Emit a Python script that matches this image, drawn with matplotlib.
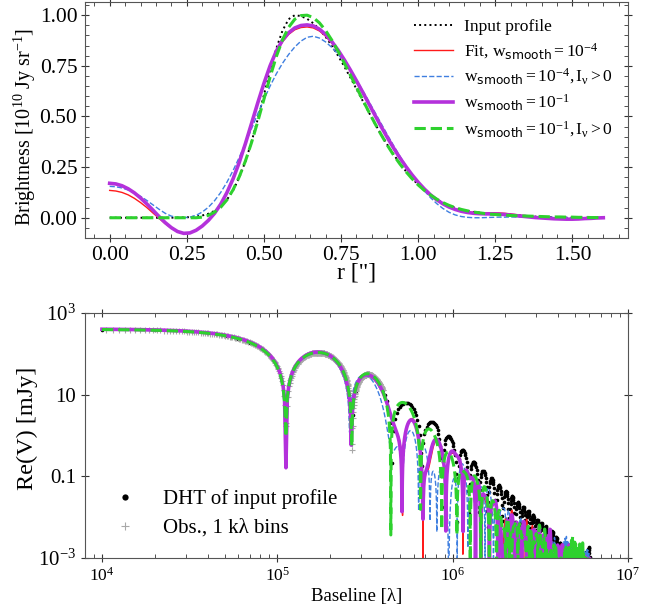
import numpy as np
import matplotlib
matplotlib.use('Agg')
import matplotlib.pyplot as plt
from matplotlib.lines import Line2D
from matplotlib.ticker import MultipleLocator, FixedLocator, LogLocator, NullLocator, NullFormatter

plt.rcParams['font.family'] = 'Liberation Serif'
plt.rcParams['mathtext.fontset'] = 'custom'
plt.rcParams['mathtext.rm'] = 'Liberation Serif'
plt.rcParams['mathtext.it'] = 'Liberation Serif:italic'
plt.rcParams['mathtext.bf'] = 'Liberation Serif:bold'
plt.rcParams['mathtext.sf'] = 'DejaVu Sans'

# radius of the brightness profiles ["]
r = np.round(np.arange(0, 1.6001, 0.02), 2)

# brightness [1e10 Jy/sr]
i_input = np.array([
    0, 0, 0, 0, 0, 0, 0, 0, 0, 0.0001,
    0.0003, 0.0007, 0.0015, 0.0031, 0.0060, 0.0111, 0.0198, 0.0340, 0.0561, 0.0889,
    0.1353, 0.1979, 0.2780, 0.3753, 0.4868, 0.6065, 0.7261, 0.8353, 0.9231, 0.9802,
    1.0000, 0.9955, 0.9820, 0.9600, 0.9300, 0.8928, 0.8494, 0.8007, 0.7481, 0.6926,
    0.6354, 0.5777, 0.5204, 0.4647, 0.4111, 0.3604, 0.3132, 0.2697, 0.2301, 0.1945,
    0.1630, 0.1354, 0.1116, 0.0912, 0.0741, 0.0600, 0.0487, 0.0399, 0.0333, 0.0284,
    0.0251, 0.0227, 0.0208, 0.0191, 0.0172, 0.0151, 0.0127, 0.0102, 0.0078, 0.0057,
    0.0039, 0.0026, 0.0016, 0.0009, 0.0005, 0.0003, 0.0001, 0.0001, 0, 0,
    0])

i_fit4 = np.array([
    0.135, 0.132, 0.125, 0.113, 0.096, 0.075, 0.051, 0.024, -0.003, -0.029,
    -0.052, -0.069, -0.077, -0.075, -0.062, -0.041, -0.013, 0.023, 0.069, 0.126,
    0.194, 0.275, 0.367, 0.465, 0.565, 0.660, 0.745, 0.815, 0.868, 0.905,
    0.928, 0.939, 0.942, 0.937, 0.922, 0.896, 0.862, 0.821, 0.775, 0.725,
    0.672, 0.617, 0.561, 0.505, 0.450, 0.396, 0.345, 0.297, 0.253, 0.212,
    0.175, 0.142, 0.113, 0.089, 0.069, 0.053, 0.042, 0.034, 0.029, 0.026,
    0.025, 0.025, 0.025, 0.024, 0.022, 0.019, 0.015, 0.011, 0.007, 0.004,
    0.001, -0.001, -0.003, -0.004, -0.005, -0.005, -0.004, -0.003, -0.002, -0.001,
    0.000])

i_pos4 = np.array([
    0.155, 0.153, 0.147, 0.137, 0.123, 0.106, 0.086, 0.064, 0.042, 0.022,
    0.008, 0.001, 0.000, 0.003, 0.012, 0.028, 0.052, 0.084, 0.125, 0.175,
    0.233, 0.298, 0.368, 0.440, 0.513, 0.584, 0.650, 0.710, 0.762, 0.806,
    0.843, 0.872, 0.891, 0.896, 0.887, 0.868, 0.841, 0.808, 0.770, 0.727,
    0.680, 0.629, 0.575, 0.520, 0.465, 0.410, 0.357, 0.306, 0.258, 0.213,
    0.171, 0.133, 0.099, 0.070, 0.046, 0.027, 0.014, 0.006, 0.002, 0.000,
    0.000, 0.001, 0.002, 0.003, 0.003, 0.004, 0.004, 0.004, 0.004, 0.003,
    0.003, 0.002, 0.002, 0.001, 0.001, 0.000, 0, 0, 0, 0,
    0])

i_fit1 = np.array([
    0.170, 0.167, 0.158, 0.143, 0.123, 0.098, 0.069, 0.038, 0.006, -0.024,
    -0.049, -0.068, -0.077, -0.075, -0.062, -0.041, -0.013, 0.022, 0.067, 0.124,
    0.192, 0.273, 0.366, 0.466, 0.567, 0.663, 0.750, 0.822, 0.876, 0.913,
    0.937, 0.949, 0.952, 0.947, 0.931, 0.905, 0.870, 0.828, 0.781, 0.730,
    0.676, 0.620, 0.563, 0.506, 0.450, 0.396, 0.345, 0.297, 0.253, 0.212,
    0.175, 0.142, 0.113, 0.089, 0.069, 0.053, 0.041, 0.032, 0.026, 0.022,
    0.020, 0.019, 0.019, 0.018, 0.016, 0.013, 0.010, 0.007, 0.004, 0.001,
    -0.001, -0.003, -0.005, -0.006, -0.007, -0.007, -0.006, -0.004, -0.003, -0.001,
    0.000])

i_pos1 = np.array([
    0, 0, 0, 0, 0, 0, 0, 0, 0, 0, 0, 0, 0, 0,
    0.000, 0.003, 0.012, 0.028, 0.052, 0.088, 0.138, 0.202, 0.280, 0.372,
    0.475, 0.585, 0.695, 0.795, 0.878, 0.940, 0.980, 0.998, 1.000, 0.988,
    0.962, 0.924, 0.877, 0.823, 0.765, 0.705, 0.644, 0.583, 0.523, 0.465,
    0.410, 0.358, 0.310, 0.267, 0.228, 0.193, 0.162, 0.135, 0.112, 0.092,
    0.075, 0.061, 0.050, 0.041, 0.034, 0.028, 0.024, 0.020, 0.017, 0.015,
    0.013, 0.011, 0.010, 0.009, 0.008, 0.007, 0.006, 0.005, 0.004, 0.004,
    0.003, 0.003, 0.002, 0.002, 0.001, 0.001, 0.000])

# baselines [lambda]
q_obs = np.arange(1.05e4, 4.0e5, 1.0e3)   # 1 klambda bins
q_dht = np.arange(1.0e4, 6.1e6, 1.0e4)
q_fit = np.arange(1.0e4, 6.1e6, 2.0e3)


def bessel_j0(x):
    x = np.abs(np.asarray(x, float))
    out = np.empty_like(x)
    s = x < 8.0
    y = x[s] ** 2
    a1 = 57568490574.0 + y * (-13362590354.0 + y * (651619640.7 + y * (-11214424.18
         + y * (77392.33017 + y * (-184.9052456)))))
    a2 = 57568490411.0 + y * (1029532985.0 + y * (9494680.718 + y * (59272.64853
         + y * (267.8532712 + y * 1.0))))
    out[s] = a1 / a2
    xl = x[~s]
    z = 8.0 / xl
    y = z * z
    xx = xl - 0.785398164
    b1 = 1.0 + y * (-0.1098628627e-2 + y * (0.2734510407e-4 + y * (-0.2073370639e-5
         + y * 0.2093887211e-6)))
    b2 = -0.1562499995e-1 + y * (0.1430488765e-3 + y * (-0.6911147651e-5
         + y * (0.7621095161e-6 - y * 0.934935152e-7)))
    out[~s] = np.sqrt(0.636619772 / xl) * (np.cos(xx) * b1 - z * np.sin(xx) * b2)
    return out


ARCSEC = np.pi / 180 / 3600


def hankel(q, rad, prof, step):
    """2 pi sum I(r) J0(2 pi q r) r dr, in mJy (r in arcsec, I in 1e10 Jy/sr)."""
    rr = rad * ARCSEC
    w = prof * 1e10 * rr * step * ARCSEC
    out = np.empty(len(q))
    for k in range(0, len(q), 400):
        qq = q[k:k + 400, None]
        out[k:k + 400] = 2 * np.pi * (bessel_j0(2 * np.pi * qq * rr) * w).sum(axis=1)
    return out * 1e3


def dht(q, prof):
    # transform of the sampled profile itself
    return hankel(q, r, prof, 0.02)


r_fine = np.arange(0.0005, 1.6, 0.001)


def model_vis(q, prof):
    # transform of the profile drawn as a continuous curve
    return hankel(q, r_fine, np.interp(r_fine, r, prof), 0.001)


RED = '#ff1a1a'
BLUE = '#3f7fe0'
PURPLE = '#b431db'
GREEN = '#2ed12e'

fig = plt.figure(figsize=(6.67, 6.12), dpi=100)
ax1 = fig.add_axes([0.1274, 0.6111, 0.8141, 0.3856])
ax2 = fig.add_axes([0.1274, 0.0882, 0.8141, 0.4003])

ws = r'$\mathregular{w}_{\mathsf{smooth}}'
# profiles
ax1.plot(r, i_input, ':', color='k', lw=1.4, label='Input profile')
ax1.plot(r, i_fit4, '-', color=RED, lw=1.0, label='Fit, ' + ws + r'=10^{-4}$')
ax1.plot(r, i_pos4, '--', color=BLUE, lw=1.0,
         label=ws + r'=10^{-4}, \mathregular{I}_{\mathrm{\nu}}>0$')
ax1.plot(r, i_fit1, '-', color=PURPLE, lw=2.6, label=ws + r'=10^{-1}$')
ax1.plot(r, i_pos1, '--', color=GREEN, lw=2.2,
         label=ws + r'=10^{-1}, \mathregular{I}_{\mathrm{\nu}}>0$')

ax1.set_xlim(-0.08, 1.68)
ax1.set_ylim(-0.10, 1.065)
ax1.xaxis.set_major_locator(MultipleLocator(0.25))
ax1.xaxis.set_minor_locator(MultipleLocator(0.05))
ax1.yaxis.set_major_locator(MultipleLocator(0.25))
ax1.yaxis.set_minor_locator(MultipleLocator(0.05))
ax1.set_xlabel('r ["]', fontsize=17)
ax1.set_ylabel(r'Brightness [$10^{10}$ Jy sr$^{-1}$]', fontsize=14.5)
ax1.xaxis.set_label_coords(0.5, -0.105)
ax1.yaxis.set_label_coords(-0.086, 0.47)
ax1.legend(loc='upper right', bbox_to_anchor=(0.972, 0.93), frameon=False,
           fontsize=12.6, handlelength=2.23, handletextpad=0.6,
           labelspacing=0.35, borderaxespad=0, borderpad=0)

# visibilities
ax2.plot(q_dht, np.abs(dht(q_dht, i_input)), 'o', color='k', ms=2.6, mew=0)
ax2.plot(q_obs, np.abs(model_vis(q_obs, i_input)), '+', color='#a8a8a8', ms=5, mew=0.8)
ax2.plot(q_fit, np.abs(model_vis(q_fit, i_fit4)), '-', color=RED, lw=1.0)
ax2.plot(q_fit, np.abs(model_vis(q_fit, i_pos4)), '--', color=BLUE, lw=1.0)
ax2.plot(q_fit, np.abs(model_vis(q_fit, i_fit1)), '-', color=PURPLE, lw=2.6)
ax2.plot(q_fit, np.abs(model_vis(q_fit, i_pos1)), '--', color=GREEN, lw=2.2)

ax2.set_xscale('log')
ax2.set_yscale('log')
ax2.set_xlim(8e3, 1e7)
ax2.set_ylim(1e-3, 1e3)
ax2.xaxis.set_major_locator(LogLocator(base=10, numticks=10))
ax2.xaxis.set_minor_locator(LogLocator(base=10, subs=np.arange(2, 10), numticks=10))
ax2.xaxis.set_minor_formatter(NullFormatter())
ax2.yaxis.set_major_locator(FixedLocator([1e-3, 1e-1, 1e1, 1e3]))
ax2.yaxis.set_minor_locator(NullLocator())
ax2.set_yticklabels(['$10^{-3}$', '0.1', '10', '$10^{3}$'])
ax2.set_xlabel('Baseline [λ]', fontsize=13.5)
ax2.set_ylabel('Re(V) [mJy]', fontsize=17.5)
ax2.xaxis.set_label_coords(0.5, -0.122)
ax2.yaxis.set_label_coords(-0.086, 0.53)

leg_handles = [Line2D([], [], ls='none', marker='o', color='k', ms=4.5, mew=0),
               Line2D([], [], ls='none', marker='+', color='#a8a8a8', ms=6, mew=0.8)]
ax2.legend(leg_handles, ['DHT of input profile', 'Obs., 1 kλ bins'],
           loc='lower left', bbox_to_anchor=(0.05, 0.082), frameon=False,
           fontsize=15, handlelength=1.2, handletextpad=1.25, labelspacing=0.44,
           borderaxespad=0, borderpad=0)

for ax in (ax1, ax2):
    ax.tick_params(which='major', direction='inout', length=6, top=True, right=True,
                   color='#333333')
    ax.tick_params(which='minor', direction='in', length=3, top=True, right=True,
                   color='#333333')
    for sp in ax.spines.values():
        sp.set_color('#555555')
ax1.tick_params(which='major', labelsize=15.5, pad=2.5)
ax2.tick_params(axis='x', which='major', labelsize=12.5)
ax2.tick_params(axis='y', which='major', labelsize=15)

fig.savefig('out.png', dpi=100)
